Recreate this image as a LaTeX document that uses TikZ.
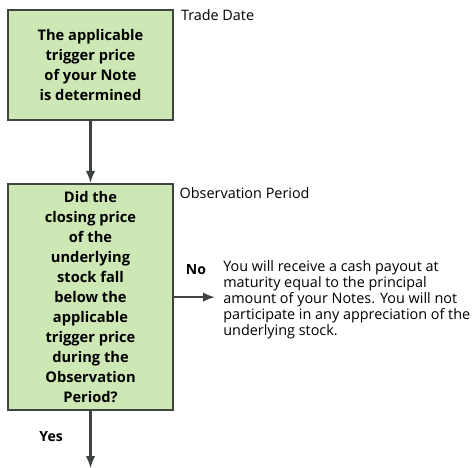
\documentclass[tikz,border=0pt]{standalone}
\usepackage{fontspec}
\setmainfont{Open Sans}
\usepackage{xcolor}
\usetikzlibrary{arrows.meta,positioning}
\definecolor{boxgreen}{RGB}{205,232,180}
\definecolor{edgegray}{RGB}{64,68,64}

\begin{document}
\begin{tikzpicture}[
    x=0.75pt, y=-0.75pt,
    node distance=46.5pt,
    box/.style={
      draw=edgegray, line width=1.6pt, fill=boxgreen, align=center,
      minimum width=123.75pt, inner sep=0pt,
      font=\bfseries\fontsize{11}{15}\selectfont
    },
    note/.style={
      align=left, inner sep=0pt,
      font=\fontsize{10.8}{11.9}\selectfont
    },
    branch/.style={font=\bfseries\fontsize{10.5}{11}\selectfont, inner sep=0pt},
    arrow/.style={-{Latex[length=3.2mm,width=2.5mm]},line width=1.6pt,draw=edgegray}
  ]
    \useasboundingbox (0,0) rectangle (474,467);

    \node[box, minimum height=82.5pt] (trigger) at (90.5,65)
      {The applicable\\trigger price\\of your Note\\is determined};
    \node[box, minimum height=169.5pt, below=of trigger] (check)
      {Did the\\closing price\\of the\\underlying\\stock fall\\below the\\applicable\\trigger price\\during the\\Observation\\Period?};
    \node[note, right=36.75pt of check, yshift=-2pt] (payout)
      {You will receive a cash payout at\\maturity equal to the principal\\amount of your Notes. You will not\\participate in any appreciation of the\\underlying stock.};
    \coordinate[below=42.75pt of check] (exit);

    \node[note, anchor=north west] (trade) at ([xshift=5pt,yshift=-0.5pt]trigger.north east) {Trade Date};
    \node[note, anchor=north west] (period) at ([xshift=4pt,yshift=-3pt]check.north east) {Observation Period};

    \draw[arrow] (trigger) -- (check);
    \draw[arrow, shorten >=6pt] (check) -- node[branch, above=16pt, xshift=-2pt] {No} (check -| payout.west);
    \draw[arrow] (check) -- node[branch, left=20pt, pos=0.45] {Yes} (exit);
  \end{tikzpicture}
\end{document}
